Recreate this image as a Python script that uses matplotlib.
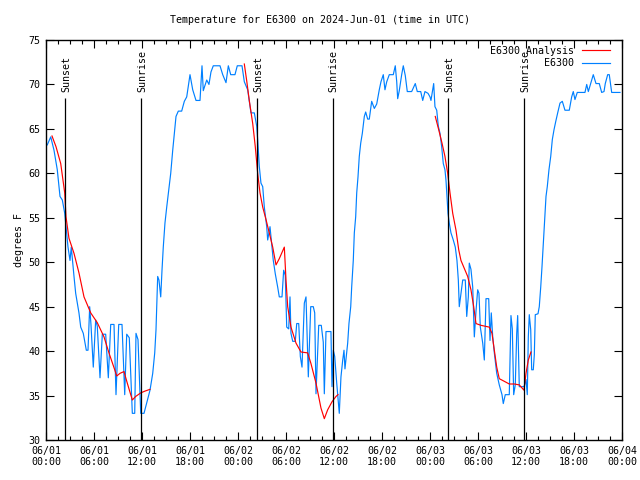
import numpy as np
import matplotlib
matplotlib.use("Agg")
import matplotlib.pyplot as plt

# ---------------- data (hours since 2024-06-01 00:00 UTC) ----------------
obs_hours = [0.16, 0.59, 1.0, 1.41, 1.75, 2.04, 2.34, 2.54, 2.75, 3.0, 3.16, 3.5, 3.71, 4.12, 4.34,
             4.66, 5.04, 5.25, 5.46, 5.62, 5.91, 6.21, 6.41, 6.75, 7.04, 7.46, 7.79, 8.09, 8.5, 8.75,
             9.09, 9.5, 9.84, 10.09, 10.41, 10.79, 11.09, 11.25, 11.5, 11.84, 12.25, 12.59, 13.0,
             13.34, 13.59, 13.75, 13.87, 13.96, 14.12, 14.34, 14.5, 14.66, 14.87, 15.09, 15.34,
             15.59, 15.84, 16.04, 16.25, 16.54, 16.96, 17.29, 17.59, 18.0, 18.34, 18.75, 19.25,
             19.5, 19.66, 20.09, 20.37, 20.62, 20.91, 21.75, 22.09, 22.5, 22.79, 23.09, 23.62,
             23.91, 24.5, 24.79, 25.21, 25.62, 26.04, 26.34, 26.46, 26.66, 26.87, 27.09, 27.29,
             27.59, 27.71, 28.0, 28.25, 28.41, 28.66, 28.96, 29.16, 29.5, 29.71, 29.91, 30.09,
             30.34, 30.5, 30.62, 30.84, 31.16, 31.34, 31.59, 31.79, 32.0, 32.29, 32.5, 32.79,
             33.09, 33.41, 33.59, 33.75, 34.09, 34.41, 34.66, 34.79, 35.0, 35.62, 35.75, 35.91,
             36.09, 36.34, 36.66, 36.87, 37.09, 37.25, 37.37, 37.54, 37.71, 37.87, 38.09, 38.21,
             38.41, 38.54, 38.71, 38.84, 39.0, 39.16, 39.34, 39.54, 39.79, 39.96, 40.21, 40.41,
             40.71, 41.04, 41.34, 41.66, 41.87, 42.16, 42.37, 42.59, 42.91, 43.41, 43.66, 43.84,
             43.96, 44.16, 44.46, 44.66, 44.91, 45.16, 45.71, 46.16, 46.41, 46.84, 47.09, 47.37,
             47.75, 48.0, 48.12, 48.34, 48.46, 48.62, 48.84, 49.04, 49.25, 49.46, 49.66, 49.87,
             50.0, 50.09, 50.25, 50.41, 50.62, 50.91, 51.16, 51.37, 51.54, 51.66, 51.87, 52.09,
             52.41, 52.59, 52.79, 52.91, 53.12, 53.34, 53.54, 53.75, 53.96, 54.12, 54.29, 54.59,
             54.79, 55.0, 55.34, 55.5, 55.66, 55.84, 56.04, 56.34, 56.66, 57.0, 57.16, 57.41,
             57.91, 58.12, 58.29, 58.46, 58.66, 58.84, 58.96, 59.16, 59.62, 59.75, 60.0, 60.16,
             60.29, 60.41, 60.59, 60.71, 60.91, 61.04, 61.16, 61.5, 61.66, 61.84, 62.0, 62.16,
             62.34, 62.5, 62.66, 62.87, 63.09, 63.29, 63.5, 63.71, 63.96, 64.25, 64.54, 64.87,
             65.41, 65.71, 65.91, 66.12, 66.41, 67.37, 67.59, 67.79, 68.09, 68.41, 68.75, 69.16,
             69.46, 69.75, 69.91, 70.21, 70.41, 70.71, 71.75]
obs_temp = [63.2, 64.1, 62.6, 60.4, 57.4, 57.0, 55.5, 53.6, 51.7, 50.2, 51.7, 48.4, 46.5, 44.3, 42.7,
            42.0, 40.1, 40.1, 45.0, 43.0, 38.2, 43.5, 42.8, 37.0, 41.9, 41.9, 37.0, 43.0, 43.0, 35.1,
            43.0, 43.0, 35.1, 41.9, 41.5, 33.0, 33.0, 42.0, 41.3, 33.0, 33.0, 34.2, 35.6,
            37.5, 39.8, 42.4, 45.7, 48.4, 48.0, 46.1, 49.1, 51.7, 54.4, 56.2, 58.1,
            60.0, 62.6, 64.5, 66.4, 67.0, 67.0, 68.1, 68.6, 71.1, 69.4, 68.2, 68.2,
            72.1, 69.3, 70.5, 70.0, 71.4, 72.1, 72.1, 71.1, 70.2, 72.1, 71.1, 71.1,
            72.1, 72.1, 70.3, 69.4, 66.8, 66.8, 65.3, 63.8, 60.8, 58.9, 58.5, 56.2,
            54.0, 52.5, 54.0, 51.7, 50.2, 48.7, 47.2, 46.1, 46.1, 49.1, 48.5, 42.7,
            42.5, 46.1, 42.0, 41.1, 41.1, 43.1, 43.1, 39.4, 38.2, 45.4, 46.1, 37.1,
            45.0, 45.0, 44.3, 35.2, 42.9, 42.9, 41.0, 35.2, 42.2, 42.2, 36.0, 40.1,
            39.4, 36.4, 33.0, 37.1, 39.0, 40.1, 38.0, 39.5, 40.9, 43.1, 45.0, 47.2,
            50.2, 53.3, 55.1, 57.8, 59.6, 61.9, 63.4, 64.5, 66.4, 66.9, 66.1, 66.1,
            68.1, 67.3, 67.8, 69.4, 70.3, 71.1, 69.4, 70.3, 71.1, 71.1, 72.1, 70.3,
            68.4, 69.3, 71.1, 72.1, 71.0, 69.2, 69.2, 70.1, 69.2, 69.2, 68.2, 69.2,
            69.0, 68.6, 68.2, 69.4, 70.1, 67.5, 67.1, 65.3, 64.5, 63.0, 61.1, 60.4,
            59.2, 57.8, 55.5, 54.4, 53.3, 52.5, 51.7, 50.2, 48.0, 45.0, 46.5, 48.0,
            48.0, 43.9, 46.1, 49.9, 49.2, 47.2, 41.6, 44.5, 46.9, 46.5, 42.7, 40.9,
            39.0, 45.9, 45.9, 41.2, 44.3, 41.6, 39.8, 37.5, 36.2, 35.1, 34.1, 35.1,
            35.1, 44.0, 42.5, 35.1, 36.2, 42.0, 44.0, 36.0, 36.0, 36.0, 36.8, 35.1,
            41.6, 44.1, 42.4, 37.9, 37.9, 39.6, 44.1, 44.2, 45.0, 47.2, 49.5, 52.1,
            55.1, 57.4, 58.5, 60.4, 61.9, 63.8, 64.9, 65.8, 66.8, 67.9, 68.1, 67.1,
            67.1, 68.6, 69.2, 68.3, 69.1, 69.1, 70.0, 69.2, 70.1, 71.1, 70.1, 70.1,
            69.1, 69.2, 70.1, 71.1, 71.1, 69.1, 69.1]

ana_hours = [0.75, 1.25, 1.84, 2.34, 2.5, 2.87, 3.5, 4.12, 4.75, 5.59, 6.41, 7.25, 7.87, 8.59, 8.84,
             9.25, 9.75, 10.16, 10.79, 11.21, 11.84, 12.37, 13.0, 18.0,
             24.79, 25.09, 25.41, 25.84, 26.16, 26.46, 26.75, 27.09, 27.5, 27.91, 28.34, 28.75,
             29.16, 29.79, 30.0, 30.21, 30.62, 31.25, 31.87, 32.71, 33.12, 33.75, 34.37, 34.79,
             35.21, 35.75, 36.25, 36.5, 42.0,
             48.66, 49.09, 49.5, 49.87, 50.21, 50.5, 50.84, 51.25, 51.59, 51.87, 52.29, 52.71,
             53.12, 53.46, 53.75, 54.37, 55.41, 55.75, 56.04, 56.34, 56.66, 57.29, 57.91, 58.54,
             59.16, 59.75, 60.0, 60.29, 60.62]
ana_temp = [64.2, 63.0, 61.1, 57.8, 55.1, 52.7, 51.0, 48.8, 46.1, 44.3, 43.2, 41.6, 39.8, 37.9, 37.2,
            37.5, 37.7, 36.4, 34.5, 34.9, 35.3, 35.5, 35.7, np.nan,
            72.3, 70.4, 68.2, 65.6, 63.0, 60.0, 57.8, 56.2, 54.8, 53.3, 51.7, 49.7,
            50.4, 51.7, 48.0, 45.0, 42.7, 40.9, 39.9, 39.8, 38.6, 36.4, 33.6, 32.4,
            33.4, 34.3, 34.9, 35.1, np.nan,
            66.4, 64.9, 63.4, 61.9, 60.0, 57.8, 55.5, 53.6, 51.4, 50.2, 49.3, 48.4,
            46.9, 45.0, 43.1, 42.9, 42.7, 42.0, 40.1, 38.2, 36.9, 36.6, 36.3, 36.3,
            36.2, 35.6, 37.5, 39.0, 39.9]

sun_hours = [2.38, 11.9, 26.34, 35.82, 50.3, 59.8]
sun_labels = ["Sunset", "Sunrise", "Sunset", "Sunrise", "Sunset", "Sunrise"]

xtick_hours = list(range(0, 73, 6))
xtick_labels = ["06/01\n00:00", "06/01\n06:00", "06/01\n12:00", "06/01\n18:00",
                "06/02\n00:00", "06/02\n06:00", "06/02\n12:00", "06/02\n18:00",
                "06/03\n00:00", "06/03\n06:00", "06/03\n12:00", "06/03\n18:00",
                "06/04\n00:00"]

# ---------------- figure ----------------
FONT = "DejaVu Sans Mono"
FS = 7.2
plt.rcParams['font.family'] = [FONT]
plt.rcParams['font.size'] = FS

fig = plt.figure(figsize=(6.4, 4.8), dpi=100)
ax = fig.add_axes([46/640, 40/480, 576/640, 400/480])

ax.plot(ana_hours, ana_temp, color="#ff0000", lw=0.85, label="E6300 Analysis", zorder=3)
ax.plot(obs_hours, obs_temp, color="#0080ff", lw=0.85, label="E6300", zorder=2)

for h, lab in zip(sun_hours, sun_labels):
    ax.vlines(h, 30, 68.5, color="black", lw=0.9, zorder=4)
    ax.text(h + 0.15, 69.2, lab, rotation=90, ha="center", va="bottom", fontsize=FS)

ax.set_xlim(0, 72)
ax.set_ylim(30, 75)
ax.set_xticks(xtick_hours)
ax.set_xticklabels(xtick_labels)
ax.set_xticks(np.arange(0, 72.1, 1.5), minor=True)
ax.set_yticks(range(30, 76, 5))
ax.tick_params(which="both", direction="in", top=True, right=True, width=0.8, labelsize=FS)
ax.tick_params(which="major", length=6, pad=4)
ax.tick_params(which="minor", length=3)
ax.tick_params(axis="y", pad=4)
for s in ax.spines.values():
    s.set_linewidth(1.0)

ax.set_ylabel("degrees F", fontsize=FS, labelpad=3)
fig.text(0.5, 1 - 20/480, "Temperature for E6300 on 2024-Jun-01 (time in UTC)",
         ha="center", va="center", fontsize=FS)

leg = ax.legend(loc="upper right", bbox_to_anchor=(1 - 10/576, 1 - 4/400),
                frameon=False, markerfirst=False, handlelength=2.8,
                handletextpad=0.8, labelspacing=0.25, borderaxespad=0.0, borderpad=0.2,
                fontsize=FS)

fig.savefig("out.png", dpi=100)
